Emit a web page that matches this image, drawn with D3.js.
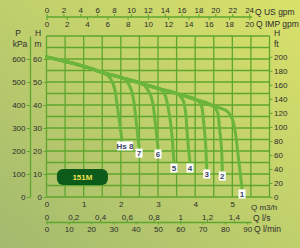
<!DOCTYPE html>
<html><head><meta charset="utf-8">
<script src="https://cdn.jsdelivr.net/npm/d3@7/dist/d3.min.js"></script>
<style>html,body{margin:0;padding:0;overflow:hidden;background:#c0d070}
text{font-family:"Liberation Sans",Arial,sans-serif}</style>
</head><body><svg id="c" width="300" height="248"></svg>
<script>
// ---- data ----
const qM3hTicks = [0,1,2,3,4,5];
const qUsGpmTicks = [0,2,4,6,8,10,12,14,16,18,20,22,24];
const qImpGpmTicks = [0,2,4,6,8,10,12,14,16,18,20];
const qLsTicks = [0,0.2,0.4,0.6,0.8,1,1.2,1.4];
const qLminTicks = [0,10,20,30,40,50,60,70,80,90];
const hMTicks = [0,10,20,30,40,50,60];
const pKpaTicks = [0,100,200,300,400,500,600];
const hFtTicks = [0,20,40,60,80,100,120,140,160,180,200];
// envelope curve (Q m3/h, H m)
const envelopeQ = [0, 1.17, 1.52, 2.06, 2.59, 3.05, 3.53, 4.05, 4.48, 4.66];
const envelopeH = [60.9, 56.0, 54.0, 51.7, 49.1, 47.0, 44.8, 42.2, 39.6, 38.7];
// curve names and their falling branch
const curveNames = ["1","2","3","4","5","6","7","Hs 8"];
const branchStart = [9, 8, 7, 6, 5, 4, 3, 2]; // index on envelope where each curve leaves
const dropQ = [
  [4.88, 5.01, 5.09, 5.17, 5.26],
  [4.61, 4.66, 4.72, 4.73],
  [4.18, 4.23, 4.29, 4.31],
  [3.67, 3.75, 3.80, 3.86],
  [3.19, 3.27, 3.37, 3.43],
  [2.73, 2.86, 2.94, 3.00],
  [2.19, 2.33, 2.41, 2.49],
  [1.71, 1.84, 1.92, 2.03]
];
const dropH = [
  [37.0, 33.5, 27.0, 16.1, 3.9],
  [36.5, 29.1, 17.4, 11.7],
  [39.1, 32.2, 20.4, 12.6],
  [42.2, 35.7, 24.8, 15.2],
  [44.3, 39.1, 27.8, 15.2],
  [46.5, 40.9, 30.4, 21.3],
  [49.6, 43.5, 33.5, 21.7],
  [51.7, 46.5, 37.8, 24.8]
];
const modelName = "151M";

// ---- drawing ----
const svg = d3.select("#c");
const W = 300, H = 248;
const TXT = "#2d2d2d";
const defs = svg.append("defs");
const g = defs.append("linearGradient").attr("id","bg").attr("x1","0").attr("y1","1").attr("x2","1").attr("y2","0");
g.append("stop").attr("offset","0").attr("stop-color","#a3ba6e");
g.append("stop").attr("offset","0.5").attr("stop-color","#bfcf6c");
g.append("stop").attr("offset","1").attr("stop-color","#d9e169");
svg.append("rect").attr("width",W).attr("height",H).attr("fill","url(#bg)");

const L = 46.5, R = 269.5, T = 36, B = 197;
const x = d3.scaleLinear().domain([0,6]).range([L,R]);
const y = d3.scaleLinear().domain([0,70]).range([B,T]);
const xUS = d3.scaleLinear().domain([0, 6/0.22712]).range([L,R]);
const xIMP = d3.scaleLinear().domain([0, 6/0.27277]).range([L,R]);
const xLs = d3.scaleLinear().domain([0, 6/3.6]).range([L,R]);
const xLmin = d3.scaleLinear().domain([0, 100]).range([L,R]);
const yFt = d3.scaleLinear().domain([0, 70/0.3048]).range([B,T]);
const yKpa = d3.scaleLinear().domain([0, 700]).range([B,T]);

const GRID = "#5ea62e", CURVE = "#6cb53c";
const fs = 8;
const plain = d => String(d);

// grid
const grid = svg.append("g");
grid.selectAll(".v").data(d3.range(0, 6.01, 0.5)).join("line")
  .attr("x1", d=>x(d)).attr("x2", d=>x(d)).attr("y1", T).attr("y2", B)
  .attr("stroke", GRID).attr("stroke-width", 1.3);
grid.selectAll(".h").data(d3.range(0, 70.01, 5)).join("line")
  .attr("y1", d=>y(d)).attr("y2", d=>y(d)).attr("x1", L).attr("x2", R)
  .attr("stroke", GRID).attr("stroke-width", 1.3);

function style(sel){
  sel.select(".domain").attr("stroke", GRID).attr("stroke-width",1.3);
  sel.selectAll(".tick line").attr("stroke", GRID).attr("stroke-width",1);
  sel.selectAll("text").style("font-size", fs+"px").style("fill", TXT);
}
const comma = d => String(d).replace(".", ",");
function title(xp, yp, t, anchor, size){
  svg.append("text").attr("x",xp).attr("y",yp).attr("text-anchor",anchor||"start")
    .style("font-size",(size||8.5)+"px").style("fill",TXT).text(t);
}

// top axes
const topY = 17;
svg.append("g").attr("transform",`translate(0,${topY})`)
  .call(d3.axisTop(xUS).tickValues(qUsGpmTicks).tickFormat(plain).tickSize(3).tickPadding(1.5).tickSizeOuter(0)).call(style)
  .select(".domain").attr("d", `M${L},0H${xUS(24)+3}`);
svg.append("g").attr("transform",`translate(0,${topY})`)
  .call(d3.axisBottom(xIMP).tickValues(qImpGpmTicks).tickFormat(plain).tickSize(3).tickPadding(1.5).tickSizeOuter(0)).call(style)
  .select(".domain").remove();
title(255, 15, "Q US gpm");
title(256, 27, "Q IMP gpm");

// bottom m3/h
svg.append("g").attr("transform",`translate(0,${B})`)
  .call(d3.axisBottom(x).tickValues(qM3hTicks).tickFormat(plain).tickSize(0).tickPadding(4)).call(style)
  .select(".domain").remove();
title(251, 210, "Q m3/h", "start", 8);

// bottom l/s and l/min
const botY = 222.5;
svg.append("g").attr("transform",`translate(0,${botY})`)
  .call(d3.axisTop(xLs).tickValues(qLsTicks).tickFormat(comma).tickSize(2).tickPadding(1).tickSizeOuter(0)).call(style)
  .select(".domain").attr("d", `M${L},0H${xLmin(92)}`);
svg.append("g").attr("transform",`translate(0,${botY})`)
  .call(d3.axisBottom(xLmin).tickValues(qLminTicks).tickFormat(plain).tickSize(2).tickPadding(1.5).tickSizeOuter(0)).call(style)
  .select(".domain").remove();
title(253, 221, "Q l/s");
title(254, 232, "Q l/min");

// left H m axis
svg.append("g").attr("transform",`translate(${L},0)`)
  .call(d3.axisLeft(y).tickValues(hMTicks).tickFormat(plain).tickSize(3).tickPadding(1.5).tickSizeOuter(0)).call(style)
  .select(".domain").remove();
// left kPa axis
const kx = 30;
svg.append("g").attr("transform",`translate(${kx},0)`)
  .call(d3.axisLeft(yKpa).tickValues(pKpaTicks).tickFormat(plain).tickSize(3).tickPadding(1.5).tickSizeOuter(0)).call(style);
// right ft axis
svg.append("g").attr("transform",`translate(${R},0)`)
  .call(d3.axisRight(yFt).tickValues(hFtTicks).tickFormat(plain).tickSize(3).tickPadding(1.5).tickSizeOuter(0)).call(style)
  .select(".domain").remove();

title(18, 36, "P", "middle");
title(20, 47, "kPa", "middle");
title(38, 36, "H", "middle");
title(38, 47, "m", "middle");
title(274, 36, "H");
title(274, 47, "ft");

// curves
const line = d3.line().x(d=>x(d[0])).y(d=>y(d[1])).curve(d3.curveMonotoneX);
const curves = curveNames.map((name,i)=>{
  const pts = [];
  for (let k=0;k<=branchStart[i];k++) pts.push([envelopeQ[k], envelopeH[k]]);
  dropQ[i].forEach((q,j)=>pts.push([q, dropH[i][j]]));
  return {name, pts};
});
svg.append("g").selectAll("path").data(curves).join("path")
  .attr("d", d=>line(d.pts)).attr("fill","none")
  .attr("stroke", CURVE).attr("stroke-width", 3).attr("stroke-linejoin","round").attr("stroke-linecap","round");

// curve labels
const lab = svg.append("g").selectAll("g").data(curves).join("g")
  .attr("transform", d=>{ const e=d.pts[d.pts.length-1]; const dx = d.name.length>1 ? 3 : 0; return `translate(${x(e[0])+dx},${y(e[1])+6})`; });
lab.append("rect")
  .attr("x", d=> d.name.length>1 ? -8 : -3.5).attr("y",-4.5)
  .attr("width", d=> d.name.length>1 ? 16 : 7).attr("height",9).attr("fill","#ffffff");
lab.append("text").attr("text-anchor","middle").attr("dy","0.35em")
  .style("font-size","8px").style("font-weight","bold").style("fill","#3a4560").text(d=>d.name);

// model badge
const bx = x(0.28), by = y(8.7);
svg.append("rect").attr("x", bx).attr("y", by-8).attr("width", 51).attr("height", 16).attr("rx", 6)
  .attr("fill", "#0d5b1b");
svg.append("text").attr("x", bx+25.5).attr("y", by).attr("dy","0.35em").attr("text-anchor","middle")
  .style("font-size","8px").style("font-weight","bold").style("fill","#ece44a").text(modelName);
</script></body></html>
